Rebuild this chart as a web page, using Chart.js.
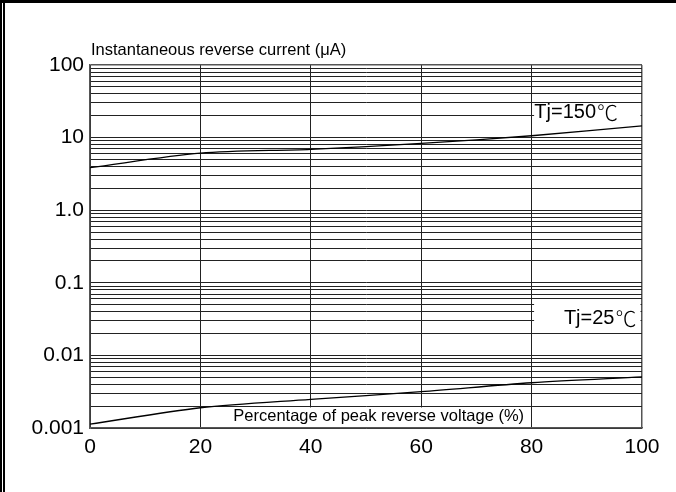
<!DOCTYPE html>
<html lang="en">
<head>
    <meta charset="UTF-8">
    <title>Reverse current vs. peak reverse voltage</title>
    <script src="https://cdn.jsdelivr.net/npm/chart.js"></script>
    <style>
        body { margin: 0; background: #fff; font-family: "Liberation Sans", Arial, sans-serif; }
        .wrap { position: relative; width: 676px; height: 492px; }
        .frameTop { position: absolute; left: 0; top: 0; width: 676px; height: 3px; background: #000; }
        .frameLeft { position: absolute; left: 0; top: 0; width: 5px; height: 492px; border-left: 5px double #000; box-sizing: border-box; }
    </style>
</head>
<body>
    <div class="wrap">
        <canvas id="irChart" width="676" height="492"></canvas>
        <div class="frameTop"></div>
        <div class="frameLeft"></div>
    </div>

    <script>
        // values
        const voltagePct = [0, 20, 40, 60, 80, 100];
        const current150 = [3.85, 6.1, 6.9, 8.3, 10.6, 14.5];
        const current25 = [0.00113, 0.0019, 0.00248, 0.00316, 0.0042, 0.00505];

        const xTicks = [0, 20, 40, 60, 80, 100];
        const yDecades = [0.001, 0.01, 0.1, 1, 10, 100];
        const yTickLabels = ['0.001', '0.01', '0.1', '1.0', '10', '100'];

        const titleY = 'Instantaneous reverse current (μA)';
        const titleX = 'Percentage of peak reverse voltage (%)';

        // grid lines at 1..9 of each decade
        const yGrid = [];
        yDecades.forEach(function (d, i) {
            if (i === yDecades.length - 1) { yGrid.push(d); return; }
            for (let k = 1; k <= 9; k++) yGrid.push(+(d * k).toPrecision(3));
        });

        const FONT = '"Liberation Sans", Arial, sans-serif';

        // white boxed labels inside the plot (box in data units); unit drawn in a thin face
        const notes = [
            { text: 'Tj=150', unit: '℃', x: 80.5, y: 22.5, align: 'left', size: 20, box: [80, 100, 29, 10.5] },
            { text: 'Tj=25', unit: '℃', x: 99, y: 0.0327, align: 'right', size: 20, box: [80, 100, 0.0527, 0.021] },
            { text: titleX, unit: '', x: 52.3, y: 0.00144, align: 'center', size: 16.5, box: [25, 79.6, 0.00198, 0.001] }
        ];

        const notesPlugin = {
            id: 'notes',
            beforeDatasetsDraw(chart) {
                const c = chart.ctx, xs = chart.scales.x, ys = chart.scales.y;
                c.save();
                notes.forEach(function (n) {
                    const x1 = xs.getPixelForValue(n.box[0]) + 2.5;
                    const x2 = xs.getPixelForValue(n.box[1]) - 1.5;
                    const y1 = ys.getPixelForValue(n.box[2]) + 1;
                    const y2 = ys.getPixelForValue(n.box[3]) - 1;
                    c.fillStyle = '#fff';
                    c.fillRect(x1, y1, x2 - x1, y2 - y1);

                    c.fillStyle = '#000';
                    c.textBaseline = 'middle';
                    c.textAlign = 'left';
                    const mainFont = n.size + 'px ' + FONT;
                    const unitFont = '300 ' + (n.size + 1) + 'px "Noto Sans CJK JP", "DejaVu Sans", sans-serif';
                    c.font = mainFont;
                    const w1 = c.measureText(n.text).width;
                    c.font = unitFont;
                    const w2 = n.unit ? c.measureText(n.unit).width + 1 : 0;
                    let px = xs.getPixelForValue(n.x);
                    if (n.align === 'right') px -= w1 + w2;
                    if (n.align === 'center') px -= (w1 + w2) / 2;
                    const py = ys.getPixelForValue(n.y);
                    c.font = mainFont;
                    c.fillText(n.text, px, py);
                    if (n.unit) {
                        c.font = unitFont;
                        c.fillText(n.unit, px + w1 + 1, py);
                    }
                });
                // axis title above the plot
                c.font = '16.5px ' + FONT;
                c.textAlign = 'left';
                c.textBaseline = 'alphabetic';
                c.fillStyle = '#000';
                c.fillText(titleY, chart.chartArea.left + 1, chart.chartArea.top - 10);
                c.restore();
            }
        };

        const ctx = document.getElementById('irChart').getContext('2d');
        const irChart = new Chart(ctx, {
            type: 'line',
            data: {
                labels: voltagePct,
                datasets: [{
                    label: 'Tj=150℃',
                    data: voltagePct.map((v, i) => ({ x: v, y: current150[i] })),
                    borderColor: '#000',
                    borderWidth: 1.3,
                    pointRadius: 0,
                    tension: 0.3
                }, {
                    label: 'Tj=25℃',
                    data: voltagePct.map((v, i) => ({ x: v, y: current25[i] })),
                    borderColor: '#000',
                    borderWidth: 1.3,
                    pointRadius: 0,
                    tension: 0.3
                }]
            },
            options: {
                responsive: false,
                animation: false,
                layout: { padding: { left: 0, top: 65, right: 34, bottom: 0 } },
                plugins: { legend: { display: false }, tooltip: { enabled: false } },
                scales: {
                    x: {
                        type: 'linear',
                        min: 0,
                        max: 100,
                        afterBuildTicks: s => { s.ticks = xTicks.map(v => ({ value: v })); },
                        afterFit: s => { s.height = 64; },
                        grid: {
                            drawTicks: false,
                            color: c => (c.tick && c.tick.value === 100) ? '#555' : '#222',
                            lineWidth: c => (c.tick && c.tick.value === 100) ? 1.5 : 1
                        },
                        border: { color: '#555', width: 1.5 },
                        ticks: {
                            padding: 7,
                            color: '#000',
                            font: { family: FONT, size: 21 }
                        }
                    },
                    y: {
                        type: 'logarithmic',
                        min: 0.001,
                        max: 100,
                        afterBuildTicks: s => { s.ticks = yGrid.map(v => ({ value: v })); },
                        afterFit: s => { s.width = 90; },
                        grid: {
                            drawTicks: false,
                            color: c => (c.tick && c.tick.value === 100) ? '#555' : '#222',
                            lineWidth: c => (c.tick && c.tick.value === 100) ? 1.5 : 1
                        },
                        border: { color: '#555', width: 1.5 },
                        ticks: {
                            padding: 6,
                            color: '#000',
                            autoSkip: false,
                            font: { family: FONT, size: 21 },
                            callback: function (v) {
                                const i = yDecades.findIndex(d => Math.abs(d - v) / d < 1e-6);
                                return i >= 0 ? yTickLabels[i] : '';
                            }
                        }
                    }
                }
            },
            plugins: [notesPlugin]
        });
    </script>
</body>
</html>
